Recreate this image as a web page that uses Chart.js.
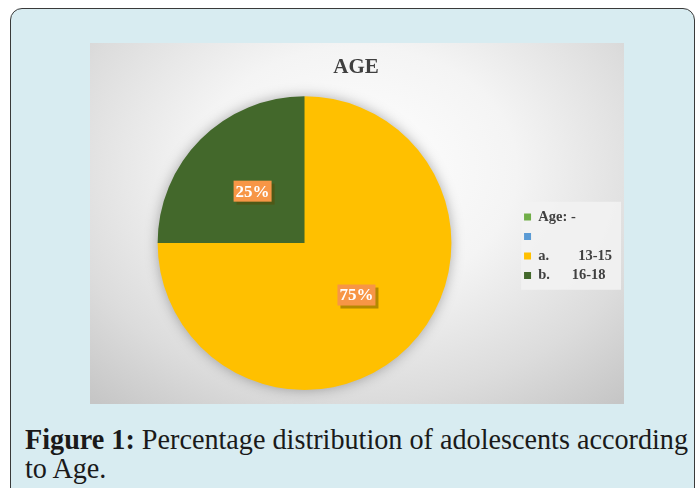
<!DOCTYPE html>
<html>
<head>
<meta charset="utf-8">
<script src="https://cdn.jsdelivr.net/npm/chart.js@4.4.0/dist/chart.umd.min.js"></script>
<style>
    html, body { margin: 0; padding: 0; background: #fff; width: 699px; height: 488px; overflow: hidden; }
    .frame {
        position: absolute; left: 10px; top: 8px; width: 685px; height: 500px;
        background: #d8ecf1; border: 1.5px solid #3a3a3a; border-radius: 12px; box-sizing: border-box;
    }
    .panel {
        position: absolute; left: 90px; top: 43px; width: 534px; height: 361px;
        background: radial-gradient(ellipse 75% 85% at 50% 35%, #ffffff 0%, #f4f4f4 40%, #dcdcdc 75%, #c6c6c6 100%);
    }
    .caption {
        position: absolute; left: 25px; top: 424px; white-space: nowrap;
        font-family: 'Liberation Serif', serif; font-size: 30px; line-height: 29px; color: #1a1a1a;
        transform-origin: left top;
    }
    .caption b { font-weight: bold; }
</style>
</head>
<body>
<div class="frame"></div>
<div class="panel"><canvas id="ageChart"></canvas></div>
<div class="caption" id="caption"><span id="capLine"><b>Figure 1:</b> Percentage distribution of adolescents according</span><br>to Age.</div>

<script>
const categories = ['Age: -', '', 'a.        13-15', 'b.      16-18'];
const percentages = [0, 0, 75, 25];
const sliceColors = ['#70ad47', '#5b9bd5', '#ffc000', '#43682b'];

let ageChart = null;

// shadow behind the pie + legend backdrop
const pieBackdrop = {
    id: 'pieBackdrop',
    beforeDatasetsDraw(chart) {
        const arc = chart.getDatasetMeta(0).data[0];
        if (!arc) return;
        const ctx = chart.ctx;
        ctx.save();
        ctx.shadowColor = 'rgba(0, 0, 0, 0.35)';
        ctx.shadowBlur = 14;
        ctx.fillStyle = '#ffc000';
        ctx.beginPath();
        ctx.arc(arc.x, arc.y, arc.outerRadius - 1, 0, Math.PI * 2);
        ctx.fill();
        ctx.restore();
    },
    beforeDraw(chart) {
        const boxes = chart.legend && chart.legend.legendHitBoxes;
        if (!boxes || !boxes.length) return;
        const left = Math.min(...boxes.map(b => b.left)) - 3;
        const top = Math.min(...boxes.map(b => b.top)) - 8;
        const right = chart.legend.right - 1;
        const bottom = Math.max(...boxes.map(b => b.top + b.height)) + 7;
        const ctx = chart.ctx;
        ctx.save();
        ctx.fillStyle = 'rgba(242, 242, 242, 0.9)';
        ctx.fillRect(left, top, right - left, bottom - top);
        ctx.restore();
    }
};

// orange percentage tags
const percentTags = {
    id: 'percentTags',
    afterDatasetsDraw(chart) {
        const ctx = chart.ctx;
        const meta = chart.getDatasetMeta(0);
        ctx.save();
        ctx.font = 'bold 17px "Liberation Serif"';
        ctx.textAlign = 'center';
        ctx.textBaseline = 'middle';
        meta.data.forEach((arc, i) => {
            const v = percentages[i];
            if (!v) return;
            const pos = arc.tooltipPosition();
            const w = 38, h = 21;
            ctx.fillStyle = 'rgba(90, 70, 0, 0.45)';
            ctx.fillRect(pos.x - w / 2 + 3, pos.y - h / 2 + 3, w, h);
            ctx.fillStyle = '#f79646';
            ctx.fillRect(pos.x - w / 2, pos.y - h / 2, w, h);
            ctx.fillStyle = '#ffffff';
            ctx.fillText(v + '%', pos.x, pos.y + 1);
        });
        ctx.restore();
    }
};

function drawAgeChart() {
    const ctx = document.getElementById('ageChart');
    if (ageChart) ageChart.destroy();

    ageChart = new Chart(ctx, {
        type: 'pie',
        data: {
            labels: categories,
            datasets: [{
                data: percentages,
                backgroundColor: sliceColors,
                borderWidth: 0
            }]
        },
        options: {
            responsive: true,
            maintainAspectRatio: false,
            animation: false,
            layout: { padding: { left: 0, right: 2, bottom: 14 } },
            plugins: {
                title: {
                    display: true,
                    text: 'AGE',
                    color: '#3f3f3f',
                    font: { family: 'Liberation Serif', size: 21, weight: 'bold' },
                    padding: { top: 12, bottom: 16 }
                },
                legend: {
                    position: 'right',
                    fullSize: false,
                    title: { display: true, text: '', padding: 2, font: { size: 2 } },
                    labels: {
                        boxWidth: 7,
                        boxHeight: 7,
                        padding: 5,
                        color: '#404040',
                        font: { family: 'Liberation Serif', size: 14.5, weight: 'bold' }
                    }
                },
                tooltip: { enabled: false }
            }
        },
        plugins: [pieBackdrop, percentTags]
    });
}

function fitCaption() {
    const cap = document.getElementById('caption');
    const line = document.getElementById('capLine');
    const w = line.getBoundingClientRect().width;
    cap.style.transform = 'scaleX(' + (663 / w) + ')';
}

document.addEventListener('DOMContentLoaded', () => {
    drawAgeChart();
    fitCaption();
});
</script>
</body>
</html>
